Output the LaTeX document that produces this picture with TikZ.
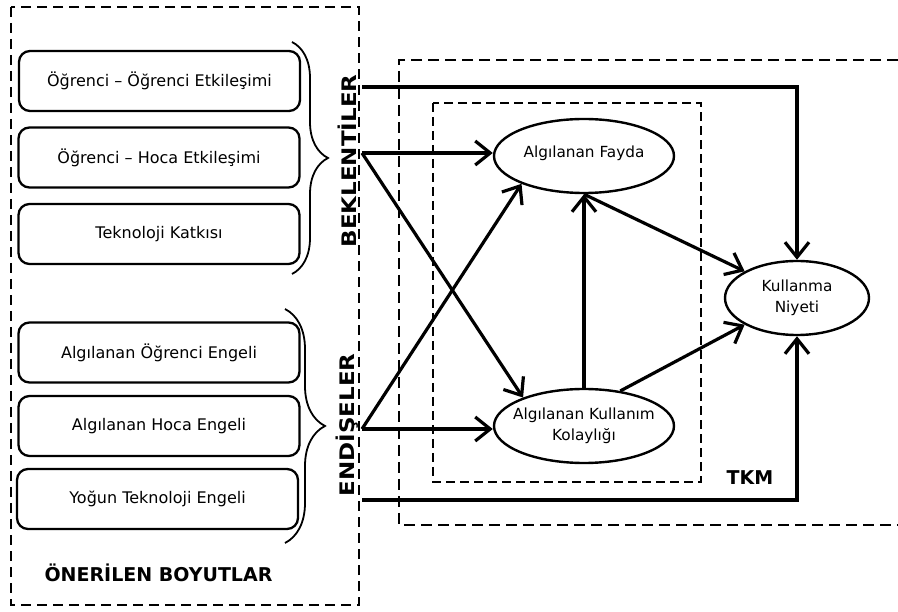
\documentclass[tikz,border=0pt]{standalone}
\usepackage{fontspec}
\setmainfont{DejaVu Sans}
\usetikzlibrary{arrows.meta,shapes.geometric,decorations.pathreplacing}

\begin{document}
\begin{tikzpicture}[x=1pt,y=-1pt,
  dimbox/.style={draw,line width=2.3pt,rounded corners=11pt,minimum width=281pt,
    minimum height=60pt,font=\fontsize{16}{19}\selectfont},
  latent/.style={draw,ellipse,line width=2.4pt,minimum width=180pt,minimum height=74pt,
    inner xsep=-25pt,inner ysep=0pt,align=center,font=\fontsize{15.3}{20.5}\selectfont},
  link/.style={line width=3.2pt,-{Straight Barb[length=15pt,width=24pt,line width=3.2pt]}},
  groupbox/.style={line width=2.2pt,dash pattern=on 10pt off 6pt},
  modelbox/.style={line width=2.2pt,dash pattern=on 11pt off 6pt},
  corebox/.style={line width=1.7pt,dash pattern=on 9pt off 5pt},
  bracket/.style={line width=1.8pt,decorate,decoration={brace,amplitude=#1}},
  sidelabel/.style={rotate=90,font=\fontsize{20}{24}\selectfont\bfseries},
  biglabel/.style={font=\fontsize{19}{23}\selectfont\bfseries}
]
\useasboundingbox (0,0) rectangle (898,612);

% grouping frames
\draw[groupbox] (11,7) rectangle (359,605);
\draw[modelbox] (898,60) -| (399,525) -- (898,525);
\draw[corebox] (433,103) rectangle (701,482);

% proposed dimensions
\node[dimbox] (d1) at (159.5,81) {Öğrenci – Öğrenci Etkileşimi};
\node[dimbox] (d2) at (159,157.5) {Öğrenci – Hoca Etkileşimi};
\node[dimbox] (d3) at (159,234) {Teknoloji Katkısı};
\node[dimbox] (d4) at (159,352.5) {Algılanan Öğrenci Engeli};
\node[dimbox] (d5) at (159,426) {Algılanan Hoca Engeli};
\node[dimbox] (d6) at (157.5,499) {Yoğun Teknoloji Engeli};

\draw[bracket=36pt] (292,42) -- (292,274);
\draw[bracket=40pt] (285,309) -- (285,543);

\node[sidelabel] (bek) at (347,161) {\scalebox{1.15}[1]{BEKLENTİLER}};
\node[sidelabel] (end) at (347,425) {\scalebox{1.15}[1]{ENDİŞELER}};
\node[biglabel] (onr) at (158.5,573) {ÖNERİLEN BOYUTLAR};
\node[biglabel] (tkm) at (750,478) {TKM};

% TAM constructs
\node[latent] (pu) at (584,156) {\raisebox{9pt}{Algılanan Fayda}};
\node[latent] (peou) at (584,426) {Algılanan Kullanım\\Kolaylığı};
\node[latent,minimum width=144pt] (bi) at (797,298) {Kullanma\\Niyeti};

% connector origins on the frame edge
\coordinate (bT) at (362,87);
\coordinate (bM) at (362,153);
\coordinate (eM) at (362,429);
\coordinate (eB) at (362,500);

\draw[link] (bT) -| (bi.north);
\draw[link] (eB) -| (bi.south);
\draw[link] (bM) -- (pu.west |- bM);
\draw[link] (bM) -- (peou.155);
\draw[link] (eM) -- (peou.west |- eM);
\draw[link] (eM) -- (pu.204);
\draw[link] (peou.north) -- (pu.south);
\draw[link] (pu.south) -- (bi.153);
\draw[link] (peou.44) -- (bi.207);
\end{tikzpicture}
\end{document}
